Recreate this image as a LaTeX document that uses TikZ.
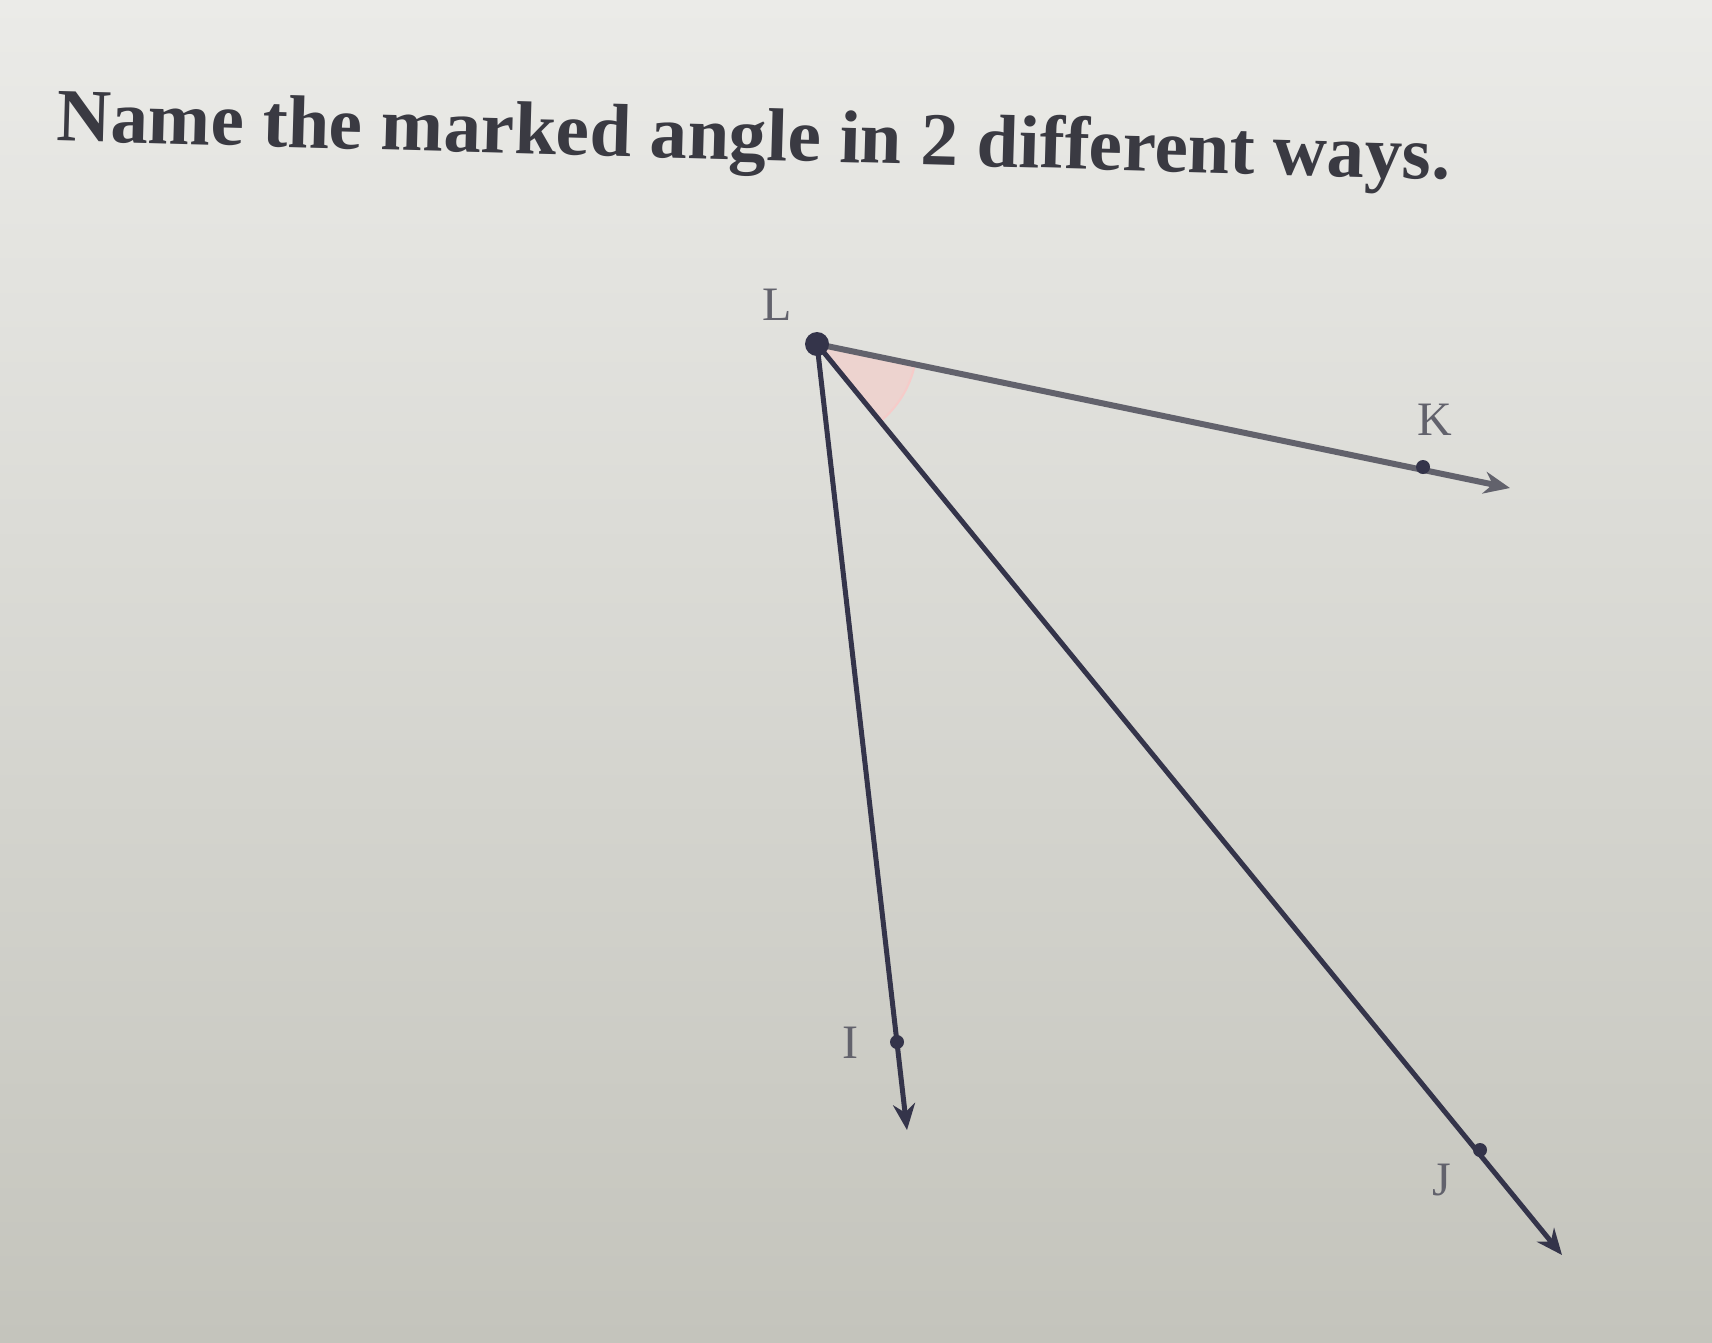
\documentclass[tikz,border=0pt]{standalone}
\usepackage{fontspec}
\setmainfont{Liberation Serif}
\usetikzlibrary{arrows.meta}
\definecolor{bgtop}{HTML}{EBEBE8}
\definecolor{bgbot}{HTML}{C4C4BC}
\definecolor{inkA}{HTML}{34344A}
\definecolor{inkB}{HTML}{62626C}
\definecolor{titleink}{HTML}{3A3A42}
\definecolor{markfill}{HTML}{EDD3CF}
\begin{document}
\begin{tikzpicture}[x=1pt,y=-1pt,
  lbl/.style={font=\fontsize{48}{50}\selectfont,text=inkB},
  ray/.style={line width=5pt,inkA,-{Stealth[length=26pt,width=22pt]}}]
\pgfmathsetmacro{\angK}{11.7}
\pgfmathsetmacro{\angJ}{50.7}
\pgfmathsetmacro{\rad}{100}
\useasboundingbox (0,0) rectangle (1712,1342);
\shade[top color=bgtop,bottom color=bgbot] (0,0) rectangle (1712,1342);
\node[anchor=base,rotate=-1.6,text=titleink,font=\bfseries\fontsize{75}{80}\selectfont] (title) at (753,160) {Name the marked angle in 2 different ways.};
\coordinate (L) at (817,344);
\coordinate (K) at (1423,467);
\coordinate (I) at (897,1042);
\coordinate (J) at (1480,1150);
\coordinate (Ktip) at (1510,488);
\coordinate (Itip) at (907,1130);
\coordinate (Jtip) at (1562,1255);
%angle mark
\fill[markfill] (L) -- ++(\angK:\rad) arc (\angK:\angJ:\rad) -- cycle;
\draw[markfill!80!red!60!white,line width=2pt] ([shift={(\angK:\rad)}]L) arc (\angK:\angJ:\rad);
%rays
\draw[ray,inkB,line width=6pt] (L) -- (Ktip);
\draw[ray] (L) -- (Itip);
\draw[ray] (L) -- (Jtip);
\fill[inkA] (L) circle (12);
\fill[inkA] (K) circle (7);
\fill[inkA] (I) circle (7);
\fill[inkA] (J) circle (7);
\node[lbl] (labL) at (777,305) {L};
\node[lbl] (labK) at (1435,420) {K};
\node[lbl] (labI) at (850,1043) {I};
\node[lbl] (labJ) at (1442,1180) {J};
\end{tikzpicture}
\end{document}
